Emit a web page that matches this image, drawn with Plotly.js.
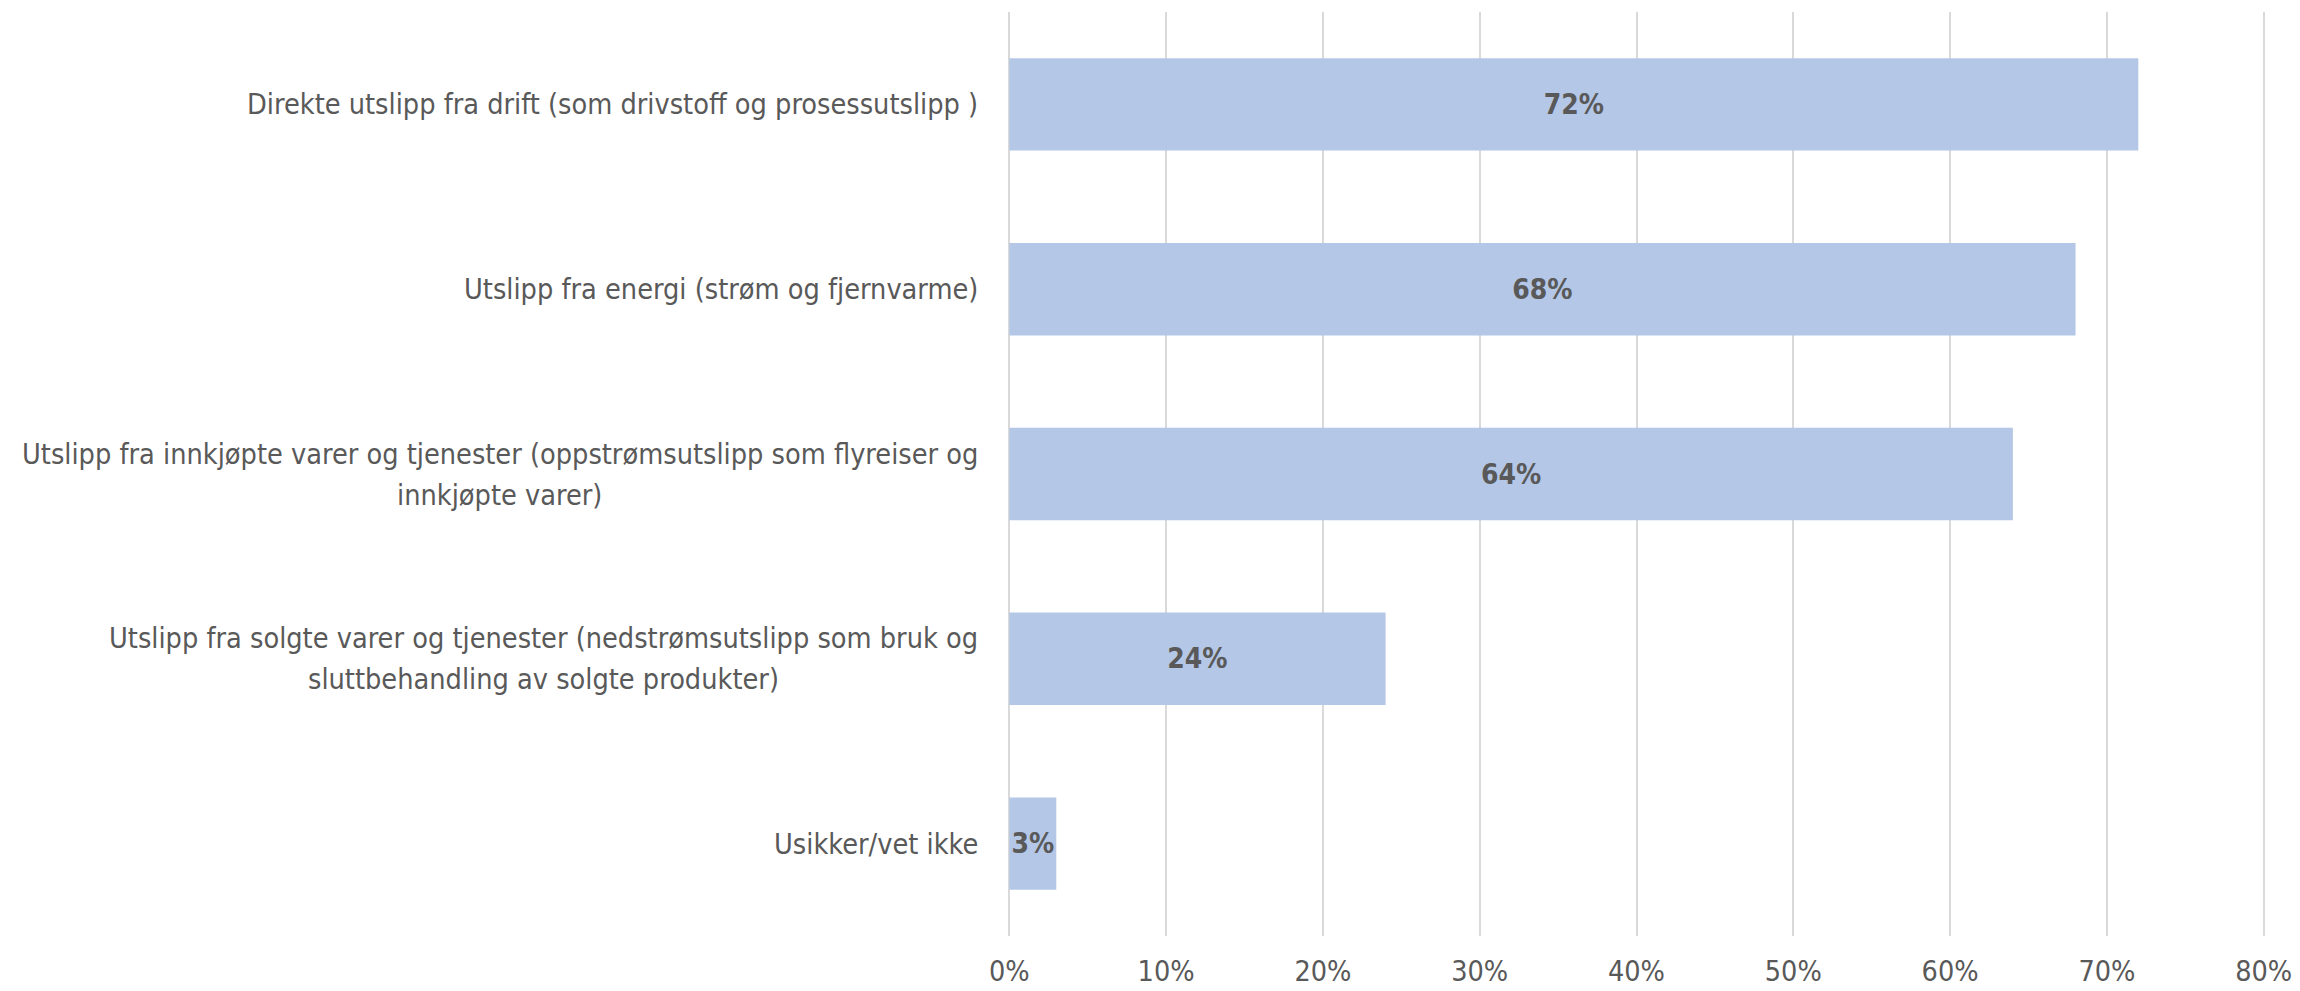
<!DOCTYPE html>
<html>
<head>
<meta charset="utf-8">
<script src="https://cdn.plot.ly/plotly-3.0.1.min.js"></script>
<style>html,body{margin:0;padding:0;background:#fff;}#chart{width:2300px;height:991px;}</style>
</head>
<body>
<div id="chart"></div>
<script>
const categories = [
  "Direkte utslipp fra drift (som drivstoff og prosessutslipp )",
  "Utslipp fra energi (strøm og fjernvarme)",
  "Utslipp fra innkjøpte varer og tjenester (oppstrømsutslipp som flyreiser og<br>innkjøpte varer)",
  "Utslipp fra solgte varer og tjenester (nedstrømsutslipp som bruk og<br>sluttbehandling av solgte produkter)",
  "Usikker/vet ikke"
];
const values = [0.72, 0.68, 0.64, 0.24, 0.03];
const valueLabels = ["72%", "68%", "64%", "24%", "3%"];
const tickVals = [0, 0.1, 0.2, 0.3, 0.4, 0.5, 0.6, 0.7, 0.8];
const tickText = ["0%", "10%", "20%", "30%", "40%", "50%", "60%", "70%", "80%"];

const FONT = "'Liberation Sans Narrow', 'DejaVu Sans Condensed', 'Arial Narrow', sans-serif";
const LABEL_SIZE = 28.6;
const LINE_GAP = 41;
const GREY = "#595959";

const trace = {
  type: "bar",
  orientation: "h",
  y: categories,
  x: values,
  text: valueLabels,
  textposition: "inside",
  insidetextanchor: "middle",
  constraintext: "none",
  textangle: 0,
  textfont: {family: FONT, size: 28, color: GREY, weight: "bold"},
  marker: {color: "#B4C7E7", line: {width: 0}},
  hoverinfo: "skip"
};

// measure line widths so multi-line labels are centred as a block, right-aligned to the axis
const ctx = document.createElement("canvas").getContext("2d");
ctx.font = LABEL_SIZE + "px " + FONT;
const annotations = [];
categories.forEach(c => {
  const lines = c.split("<br>");
  const widths = lines.map(l => ctx.measureText(l).width);
  const maxW = Math.max(...widths);
  lines.forEach((l, i) => {
    annotations.push({
      xref: "paper", yref: "y",
      x: 0, y: c,
      xanchor: "right", yanchor: "middle",
      xshift: -28 - (maxW - widths[i]) / 2,
      yshift: ((lines.length - 1) / 2 - i) * LINE_GAP,
      text: l,
      showarrow: false,
      font: {family: FONT, size: LABEL_SIZE, color: GREY}
    });
  });
});

const layout = {
  width: 2300, height: 991,
  margin: {l: 1008, r: 35, t: 12, b: 55, pad: 0},
  paper_bgcolor: "#ffffff",
  plot_bgcolor: "#ffffff",
  showlegend: false,
  bargap: 0.5,
  xaxis: {
    range: [-0.0008, 0.8008],
    tickvals: tickVals,
    ticktext: tickText,
    showgrid: true,
    gridcolor: "#D9D9D9",
    gridwidth: 2,
    zeroline: false,
    showline: false,
    ticks: "",
    ticklabelstandoff: 15,
    tickfont: {family: FONT, size: 28.5, color: GREY},
    fixedrange: true
  },
  yaxis: {
    type: "category",
    categoryorder: "array",
    categoryarray: categories,
    autorange: "reversed",
    showticklabels: false,
    showgrid: false,
    zeroline: false,
    showline: false,
    ticks: "",
    fixedrange: true
  },
  annotations: annotations
};

Plotly.newPlot("chart", [trace], layout, {displayModeBar: false, staticPlot: true});
</script>
</body>
</html>
